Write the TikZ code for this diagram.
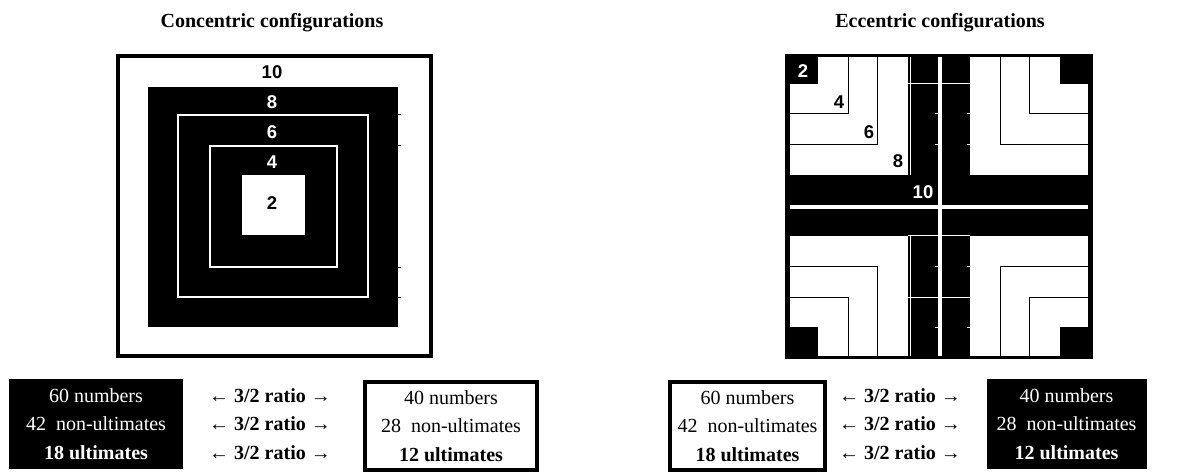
\documentclass[tikz,border=0pt]{standalone}
\usepackage{fontspec}
\setmainfont{Liberation Serif}
\newfontfamily\labelfont{Liberation Sans}
\usetikzlibrary{positioning}

\begin{document}
\begin{tikzpicture}[x=1pt, y=-1pt,
  every node/.style={font=\fontsize{20}{28.5}\selectfont},
  titlelbl/.style={font=\fontsize{20}{22}\selectfont\bfseries, anchor=base},
  numlbl/.style={font=\labelfont\fontsize{18.5}{19}\selectfont\bfseries, inner sep=0pt},
  infobox/.style={align=center, inner sep=0pt, minimum height=88pt},
  darkbox/.style={infobox, fill=black, text=white, minimum height=90pt},
  framebox/.style={infobox, draw=black, line width=4pt},
  ratiolbl/.style={align=center, inner sep=0pt},
  thinwhite/.style={draw=white, line width=1pt},
  thinblack/.style={draw=black, line width=1pt}]
  \useasboundingbox (0,0) rectangle (1202,473);

  % titles
  \node[titlelbl] (tconc) at (272,28) {Concentric configurations};
  \node[titlelbl] (tecc) at (940,28) {Eccentric configurations};

  % concentric squares
  \draw[line width=4pt] (118,56) rectangle (431,356);
  \fill[black] (148,87) rectangle (398,327);
  \draw[white, line width=1.5pt] (178,115) rectangle (368,297);
  \draw[white, line width=1.5pt] (210,146) rectangle (337,267);
  \fill[white] (242,175) rectangle (305,235);
  \foreach \ty in {115,146,267,297}
    \draw[line width=1pt] (398,\ty) -- (401,\ty);
  \node[numlbl] (c10) at (272,72) {10};
  \node[numlbl, text=white] (c8) at (272,102) {8};
  \node[numlbl, text=white] (c6) at (272,132) {6};
  \node[numlbl, text=white] (c4) at (272,162) {4};
  \node[numlbl] (c2) at (272,203) {2};

  % eccentric squares
  \fill[black] (785,54) rectangle (1093,359);
  \fill[white] (790,57) rectangle (908,175);
  \fill[white] (970,57) rectangle (1088,175);
  \fill[white] (790,236) rectangle (908,356);
  \fill[white] (970,236) rectangle (1088,356);
  \fill[black] (790,57) rectangle (818,84);
  \fill[black] (1060,57) rectangle (1088,84);
  \fill[black] (790,327) rectangle (818,356);
  \fill[black] (1060,327) rectangle (1088,356);
  % L borders
  \draw[thinblack] (848,57) -- (848,114) -- (790,114);
  \draw[thinblack] (877,57) -- (877,145) -- (790,145);
  \draw[thinblack] (1029,57) -- (1029,114) -- (1088,114);
  \draw[thinblack] (1000,57) -- (1000,145) -- (1088,145);
  \draw[thinblack] (848,356) -- (848,297) -- (790,297);
  \draw[thinblack] (877,356) -- (877,266) -- (790,266);
  \draw[thinblack] (1029,356) -- (1029,297) -- (1088,297);
  \draw[thinblack] (1000,356) -- (1000,266) -- (1088,266);
  % cross
  \draw[white, line width=4pt] (939.5,57) -- (939.5,356);
  \draw[white, line width=4pt] (790,207) -- (1088,207);
  \draw[thinwhite] (908,84) -- (970,84);
  \draw[thinwhite] (908,236) -- (970,236);
  \draw[thinwhite] (908,297) -- (970,297);
  \draw[thinwhite] (910,57) -- (910,175);
  \draw[thinwhite] (910,236) -- (910,356);
  \foreach \ty in {114,145,266,327} {
    \draw[thinwhite] (935,\ty) -- (938,\ty);
    \draw[thinwhite] (967,\ty) -- (970,\ty);
  }
  \node[numlbl, text=white] (e2) at (803,71) {2};
  \node[numlbl] (e4) at (839,102) {4};
  \node[numlbl] (e6) at (869,132) {6};
  \node[numlbl] (e8) at (898,161) {8};
  \node[numlbl, text=white] (e10) at (923,192) {10};

  % counts, concentric
  \node[darkbox, minimum width=174pt] (lnum) at (96,424)
    {60 numbers\\42~~non-ultimates\\\textbf{18 ultimates}};
  \node[ratiolbl] (lratio) at (270,424)
    {← \textbf{3/2 ratio} →\\← \textbf{3/2 ratio} →\\← \textbf{3/2 ratio} →};
  \node[framebox, minimum width=172pt] (rnum) at (451,426)
    {40 numbers\\28~~non-ultimates\\\textbf{12 ultimates}};

  % counts, eccentric
  \node[framebox, minimum width=155pt] (lnumecc) at (747.5,426)
    {60 numbers\\42~~non-ultimates\\\textbf{18 ultimates}};
  \node[ratiolbl] (eratio) at (900,424)
    {← \textbf{3/2 ratio} →\\← \textbf{3/2 ratio} →\\← \textbf{3/2 ratio} →};
  \node[darkbox, minimum width=160pt] (rnumecc) at (1066.5,424)
    {40 numbers\\28~~non-ultimates\\\textbf{12 ultimates}};
\end{tikzpicture}
\end{document}
